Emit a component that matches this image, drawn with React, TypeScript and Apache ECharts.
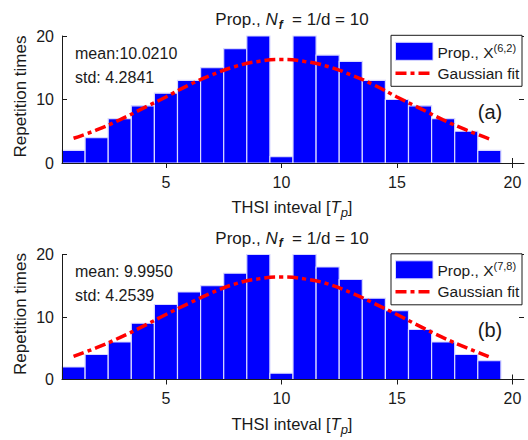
import React, { useEffect, useRef } from "react";
import * as echarts from "echarts";

// ---- data ----
const binCenters = [1, 2, 3, 4, 5, 6, 7, 8, 9, 10, 11, 12, 13, 14, 15, 16, 17, 18, 19];
const countsA = [2, 4, 7, 9, 11, 13, 15, 18, 20, 1, 20, 17, 16, 13, 10, 9, 7, 5, 2];
const countsB = [2, 4, 6, 9, 12, 14, 15, 17, 20, 1, 20, 18, 16, 13, 11, 8, 6, 4, 3];
const fitA = [3.9, 5.2, 6.8, 8.6, 10.4, 12.3, 13.9, 15.2, 16.0, 16.3, 16.0, 15.2, 13.9, 12.3, 10.4, 8.6, 6.8, 5.2, 3.8];
const fitB = [3.7, 5.1, 6.7, 8.5, 10.4, 12.2, 13.9, 15.3, 16.1, 16.4, 16.1, 15.3, 13.9, 12.2, 10.4, 8.5, 6.7, 5.1, 3.6];
const xTickValues = [5, 10, 15, 20];
const panelLabels = ["(a)", "(b)"];
const statsMean = ["mean:10.0210", "mean: 9.9950"];
const statsStd = ["std: 4.2841", "std: 4.2539"];
const legendSup = ["(6,2)", "(7,8)"];

const FONT = "'Liberation Sans', Arial, Helvetica, sans-serif";
const TXT = "#1a1a1a";
const BLUE = "#0000ff";
const RED = "#ff0000";
const DASH = [11, 4, 4, 4];

const grids = [
  { left: 62, top: 36, width: 462, height: 127 },
  { left: 62, top: 254.5, width: 462, height: 125 },
];

function App() {
  const ref = useRef<HTMLDivElement>(null);
  useEffect(() => {
    if (!ref.current) return;
    const chart = echarts.init(ref.current, null, { renderer: "svg" });

    const xAxes: any[] = [];
    const yAxes: any[] = [];
    const series: any[] = [];
    const graphics: any[] = [];

    const countsList = [countsA, countsB];
    const fitList = [fitA, fitB];

    grids.forEach((g, gi) => {
      xAxes.push({
        gridIndex: gi,
        type: "value",
        position: "bottom",
        min: 0.5,
        max: 20.5,
        axisLine: { show: false },
        axisTick: {
          show: true,
          inside: true,
          length: 5,
          customValues: xTickValues,
          lineStyle: { color: TXT, width: 1 },
        },
        axisLabel: {
          show: true,
          customValues: xTickValues,
          fontSize: 16,
          fontFamily: FONT,
          color: TXT,
          margin: 11,
        },
        splitLine: { show: false },
      });
      xAxes.push({
        gridIndex: gi,
        type: "value",
        position: "top",
        min: 0.5,
        max: 20.5,
        z: 5,
        axisLine: { show: true, lineStyle: { color: TXT, width: 1 } },
        axisTick: {
          show: true,
          inside: true,
          length: 5,
          customValues: xTickValues,
          lineStyle: { color: TXT, width: 1 },
        },
        axisLabel: { show: false },
        splitLine: { show: false },
      });
      yAxes.push({
        gridIndex: gi,
        type: "value",
        position: "left",
        min: 0,
        max: 20,
        interval: 10,
        z: 5,
        axisLine: { show: true, lineStyle: { color: TXT, width: 1 } },
        axisTick: { show: true, inside: true, length: 5, lineStyle: { color: TXT } },
        axisLabel: { fontSize: 16, fontFamily: FONT, color: TXT, margin: 8 },
        splitLine: { show: false },
      });
      yAxes.push({
        gridIndex: gi,
        type: "value",
        position: "right",
        min: 0,
        max: 20,
        interval: 10,
        axisLine: { show: false },
        axisTick: { show: true, inside: true, length: 5, lineStyle: { color: TXT } },
        axisLabel: { show: false },
        splitLine: { show: false },
      });

      const xi = gi * 2;
      const yi = gi * 2;
      series.push({
        type: "custom",
        xAxisIndex: xi,
        yAxisIndex: yi,
        z: 2,
        data: binCenters.map((x, i) => [x, countsList[gi][i]]),
        renderItem: (params: any, api: any) => {
          const x = api.value(0);
          const y = api.value(1);
          const p1 = api.coord([x - 0.5, y]);
          const p0 = api.coord([x + 0.5, 0]);
          return {
            type: "rect",
            shape: { x: p1[0], y: p1[1], width: p0[0] - p1[0], height: p0[1] - p1[1] },
            style: { fill: BLUE, stroke: "#d8d8ff", lineWidth: 1.2 },
          };
        },
      });
      series.push({
        type: "line",
        xAxisIndex: xi,
        yAxisIndex: yi,
        z: 3,
        smooth: true,
        symbol: "none",
        data: binCenters.map((x, i) => [x, fitList[gi][i]]),
        lineStyle: { color: RED, width: 3.5, type: DASH },
      });

      const top = g.top;
      graphics.push({
        type: "text",
        x: 292,
        y: top - 16.5,
        z: 10,
        style: {
          text: "{n|Prop., }{i|N}{s|f}{n|  = 1/d = 10}",
          align: "center",
          verticalAlign: "middle",
          textAlign: "center",
          textVerticalAlign: "middle",
          fill: TXT,
          fontFamily: FONT,
          fontSize: 17,
          rich: {
            n: { fontSize: 17, fontFamily: FONT, fill: TXT, color: TXT },
            i: { fontSize: 17, fontFamily: FONT, fontStyle: "italic", fill: TXT, color: TXT },
            s: { fontSize: 12, fontFamily: FONT, fontStyle: "italic", fontWeight: "bold", padding: [10, 0, 0, 1], fill: TXT, color: TXT },
          },
        },
      });
      graphics.push({
        type: "text",
        x: 292,
        y: top + g.height + 44,
        z: 10,
        style: {
          text: "{n|THSI inteval [}{i|T}{s|p}{n|]}",
          align: "center",
          verticalAlign: "middle",
          textAlign: "center",
          textVerticalAlign: "middle",
          fill: TXT,
          fontFamily: FONT,
          fontSize: 16.5,
          rich: {
            n: { fontSize: 16.5, fontFamily: FONT, fill: TXT, color: TXT },
            i: { fontSize: 16.5, fontFamily: FONT, fontStyle: "italic", fill: TXT, color: TXT },
            s: { fontSize: 13, fontFamily: FONT, fontStyle: "italic", padding: [11, 0, 0, 0], fill: TXT, color: TXT },
          },
        },
      });
      graphics.push({
        type: "text",
        x: 20.5,
        y: top + g.height / 2 - 3,
        rotation: Math.PI / 2,
        z: 10,
        style: {
          text: "Repetition times",
          align: "center",
          verticalAlign: "middle",
          textAlign: "center",
          textVerticalAlign: "middle",
          fill: TXT,
          fontFamily: FONT,
          fontSize: 17,
        },
      });
      graphics.push({
        type: "text",
        x: 75,
        y: top + 17,
        z: 10,
        style: {
          text: statsMean[gi],
          align: "left",
          verticalAlign: "middle",
          textAlign: "left",
          textVerticalAlign: "middle",
          fill: TXT,
          fontFamily: FONT,
          fontSize: 16,
        },
      });
      graphics.push({
        type: "text",
        x: 75,
        y: top + 41,
        z: 10,
        style: {
          text: statsStd[gi],
          align: "left",
          verticalAlign: "middle",
          textAlign: "left",
          textVerticalAlign: "middle",
          fill: TXT,
          fontFamily: FONT,
          fontSize: 16,
        },
      });
      graphics.push({
        type: "text",
        x: 490,
        y: top + 75.5,
        z: 10,
        style: {
          text: panelLabels[gi],
          align: "center",
          verticalAlign: "middle",
          textAlign: "center",
          textVerticalAlign: "middle",
          fill: TXT,
          fontFamily: FONT,
          fontSize: 20,
        },
      });
      const ly = top - 0.7;
      graphics.push({
        type: "rect",
        z: 20,
        shape: { x: 391, y: ly, width: 131, height: 51 },
        style: { fill: "#ffffff", stroke: TXT, lineWidth: 1 },
      });
      graphics.push({
        type: "rect",
        z: 21,
        shape: { x: 395.5, y: ly + 7, width: 37.5, height: 18 },
        style: { fill: BLUE, stroke: "#d8d8ff", lineWidth: 1 },
      });
      graphics.push({
        type: "text",
        x: 437.5,
        y: ly + 17,
        z: 21,
        style: {
          text: "{n|Prop., X}{sup|" + legendSup[gi] + "}",
          align: "left",
          verticalAlign: "middle",
          textAlign: "left",
          textVerticalAlign: "middle",
          fill: TXT,
          fontFamily: FONT,
          fontSize: 15.5,
          rich: {
            n: { fontSize: 15.5, fontFamily: FONT, fill: TXT, color: TXT },
            sup: { fontSize: 11, fontFamily: FONT, padding: [0, 0, 9, 0], fill: TXT, color: TXT },
          },
        },
      });
      graphics.push({
        type: "line",
        z: 21,
        shape: { x1: 395.5, y1: ly + 38, x2: 433, y2: ly + 38 },
        style: { stroke: RED, lineWidth: 3.5, lineDash: DASH },
      });
      graphics.push({
        type: "text",
        x: 437.5,
        y: ly + 38,
        z: 21,
        style: {
          text: "Gaussian fit",
          align: "left",
          verticalAlign: "middle",
          textAlign: "left",
          textVerticalAlign: "middle",
          fill: TXT,
          fontFamily: FONT,
          fontSize: 15.5,
        },
      });
    });

    chart.setOption({
      animation: false,
      backgroundColor: "#ffffff",
      textStyle: { fontFamily: FONT },
      grid: grids.map((g) => ({ ...g, containLabel: false })),
      xAxis: xAxes,
      yAxis: yAxes,
      series,
      graphic: graphics,
    });
    return () => chart.dispose();
  }, []);

  return (
    <div
      ref={ref}
      style={{ position: "absolute", left: 0, top: 0, width: 528, height: 440 }}
    />
  );
}

export default App;
